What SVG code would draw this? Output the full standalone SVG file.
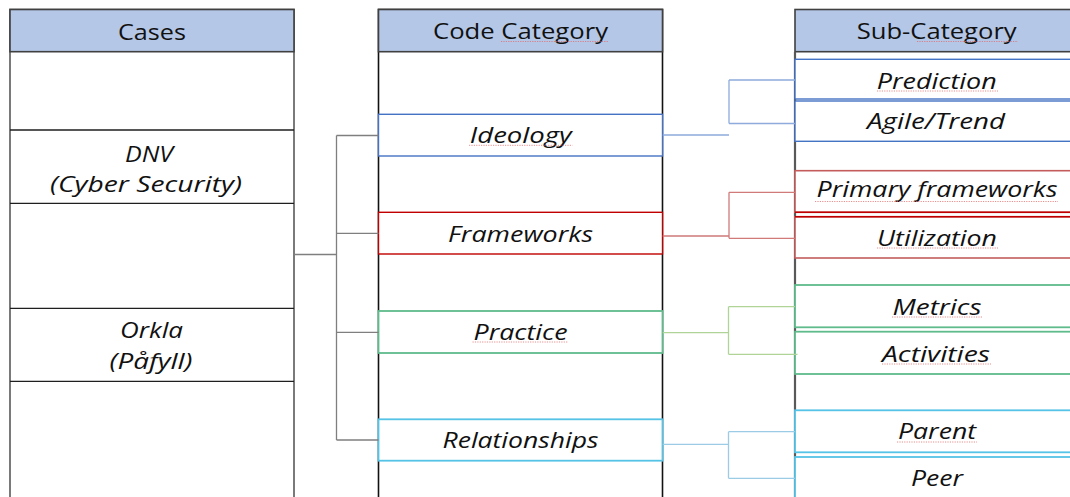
<svg xmlns="http://www.w3.org/2000/svg" width="1070" height="497" viewBox="0 0 1070 497">
  <style>
    .col { fill: #ffffff; stroke: #595959; stroke-width: 1.6; }
    .head { fill: #b4c7e7; stroke: #404040; stroke-width: 1.6; }
    .row { stroke: #1f1f1f; stroke-width: 1.3; fill: none; }
    .hdr { font-family: "Open Sans", "Liberation Sans", sans-serif; font-size: 21px; fill: #111; text-anchor: middle; }
    .lbl { font-family: "Open Sans", "Liberation Sans", sans-serif; font-size: 22px; font-style: italic; fill: #111; text-anchor: middle; }
    .blue { fill: #ffffff; stroke: #4472c4; stroke-width: 1.4; }
    .red { fill: #ffffff; stroke: #c00000; stroke-width: 1.4; }
    .green { fill: #ffffff; stroke: #5fbb8b; stroke-width: 1.8; }
    .cyan { fill: #ffffff; stroke: #55c3e6; stroke-width: 1.8; }
    .subred { fill: #ffffff; stroke: #c45c5c; stroke-width: 1.6; }
    .link { fill: none; stroke: #7f7f7f; stroke-width: 1.3; }
    .lblue { fill: none; stroke: #8faadc; stroke-width: 1.3; }
    .lred { fill: none; stroke: #d07a7a; stroke-width: 1.3; }
    .lgreen { fill: none; stroke: #b0d498; stroke-width: 1.3; }
    .lcyan { fill: none; stroke: #9ccbe6; stroke-width: 1.3; }
    .squig { fill: none; stroke: #e06a6a; stroke-width: 1; stroke-dasharray: 1.2 1.2; opacity: 0.75; }
  </style>

  <rect width="1070" height="497" fill="#ffffff"/>

  <!-- Cases column -->
  <g id="cases">
    <rect class="col" x="10" y="9.5" width="284" height="500"/>
    <rect class="head" x="10" y="9.5" width="284" height="42.2"/>
    <text class="hdr" x="152" y="39.5" textLength="68" lengthAdjust="spacingAndGlyphs">Cases</text>
    <path class="row" d="M10,130 H294 M10,203.3 H294 M10,308.3 H294 M10,381.3 H294"/>
  </g>
  <g id="case-dnv">
    <text class="lbl" x="149" y="161.7" textLength="48" lengthAdjust="spacingAndGlyphs">DNV</text>
    <text class="lbl" x="146" y="192" textLength="192" lengthAdjust="spacingAndGlyphs">(Cyber Security)</text>
  </g>
  <g id="case-orkla">
    <text class="lbl" x="151.5" y="338.3" textLength="63" lengthAdjust="spacingAndGlyphs">Orkla</text>
    <text class="lbl" x="151" y="369" textLength="83" lengthAdjust="spacingAndGlyphs">(Påfyll)</text>
  </g>

  <!-- Code Category column -->
  <g id="code-category">
    <rect class="col" x="378.5" y="9.5" width="284" height="500" style="stroke:#111"/>
    <rect class="head" x="378.5" y="9.5" width="284" height="42.2"/>
    <text class="hdr" x="520.5" y="39.3" textLength="175" lengthAdjust="spacingAndGlyphs">Code Category</text>
    <path class="squig" d="M501,41.5 H608"/>
  </g>
  <g id="code-ideology">
    <rect class="blue" x="378.5" y="114.3" width="284" height="41.7"/>
    <text class="lbl" x="520.8" y="143.3" textLength="102" lengthAdjust="spacingAndGlyphs">Ideology</text>
    <path class="squig" d="M469,145.3 H572.5"/>
  </g>
  <g id="code-frameworks">
    <rect class="red" x="378.5" y="212.3" width="284" height="41.7"/>
    <text class="lbl" x="520.5" y="241.7" textLength="145" lengthAdjust="spacingAndGlyphs">Frameworks</text>
  </g>
  <g id="code-practice">
    <rect class="green" x="378.5" y="311" width="284" height="42"/>
    <text class="lbl" x="520.5" y="340" textLength="94" lengthAdjust="spacingAndGlyphs">Practice</text>
    <path class="squig" d="M472.5,342 H568.5"/>
  </g>
  <g id="code-relationships">
    <rect class="cyan" x="378.5" y="419.3" width="284" height="41.4"/>
    <text class="lbl" x="520.5" y="448.3" textLength="156" lengthAdjust="spacingAndGlyphs">Relationships</text>
  </g>

  <!-- Sub-Category column -->
  <g id="sub-category">
    <rect class="head" x="795" y="9.5" width="290" height="42.2"/>
    <path d="M795,51.7 V497" stroke="#595959" stroke-width="2.2" fill="none"/>
    <text class="hdr" x="936.7" y="39.3" textLength="160" lengthAdjust="spacingAndGlyphs">Sub-Category</text>
    <path class="squig" d="M917,41.5 H1018"/>
  </g>
  <g id="sub-prediction">
    <rect class="blue" x="795" y="59.3" width="290" height="39.7"/>
    <text class="lbl" x="936.7" y="89.3" textLength="120" lengthAdjust="spacingAndGlyphs">Prediction</text>
    <path class="squig" d="M877,91 H998"/>
  </g>
  <g id="sub-agile">
    <rect class="blue" x="795" y="101" width="290" height="40.3"/>
    <text class="lbl" x="936" y="129.3" textLength="138" lengthAdjust="spacingAndGlyphs">Agile/Trend</text>
  </g>
  <g id="sub-primary">
    <rect class="subred" x="795" y="170.7" width="290" height="41.6"/>
    <path d="M795,212.3 H1070" stroke="#c00000" stroke-width="1.6"/>
    <text class="lbl" x="937" y="196.5" textLength="241" lengthAdjust="spacingAndGlyphs">Primary frameworks</text>
    <path class="squig" d="M815,201.5 H1058"/>
  </g>
  <g id="sub-utilization">
    <rect class="subred" x="795" y="216.7" width="290" height="41.3"/>
    <path d="M795,216.7 H1070" stroke="#c00000" stroke-width="1.6"/>
    <text class="lbl" x="937" y="246.3" textLength="120" lengthAdjust="spacingAndGlyphs">Utilization</text>
    <path class="squig" d="M877,248 H998"/>
  </g>
  <g id="sub-metrics">
    <rect class="green" x="795" y="285" width="290" height="42.3"/>
    <text class="lbl" x="937" y="315" textLength="89" lengthAdjust="spacingAndGlyphs">Metrics</text>
    <path class="squig" d="M892,317 H983"/>
  </g>
  <g id="sub-activities">
    <rect class="green" x="795" y="331.7" width="290" height="42.3"/>
    <text class="lbl" x="936" y="361.7" textLength="108" lengthAdjust="spacingAndGlyphs">Activities</text>
    <path class="squig" d="M882,364 H991"/>
  </g>
  <g id="sub-parent">
    <rect class="cyan" x="795" y="410.3" width="290" height="42"/>
    <text class="lbl" x="937" y="439.3" textLength="78" lengthAdjust="spacingAndGlyphs">Parent</text>
    <path class="squig" d="M897,442 H977"/>
  </g>
  <g id="sub-peer">
    <rect class="cyan" x="795" y="457" width="290" height="60"/>
    <text class="lbl" x="937" y="486" textLength="52" lengthAdjust="spacingAndGlyphs">Peer</text>
  </g>

  <!-- Connectors -->
  <g id="connectors">
    <path class="link" d="M294,254.5 H336.5 M336.5,135.5 V440 M336.5,135.5 H378.5 M336.5,233.3 H378.5 M336.5,332.3 H378.5 M336.5,440 H378.5"/>
    <path class="lblue" d="M662.7,135 H729 M729,80 V123.5 M729,80 H795 M729,123.5 H795"/>
    <path class="lred" d="M662.7,236 H729 M729,192.3 V238.3 M729,192.3 H795 M729,238.3 H795"/>
    <path class="lgreen" d="M662.7,332.7 H729 M728.5,306.7 V354.3 M728.5,306.7 H795 M728.5,354.3 H797.5"/>
    <path class="lcyan" d="M662.7,444.3 H728.5 M728.5,431.7 V478.3 M728.5,431.7 H795 M728.5,478.3 H795"/>
  </g>
</svg>
